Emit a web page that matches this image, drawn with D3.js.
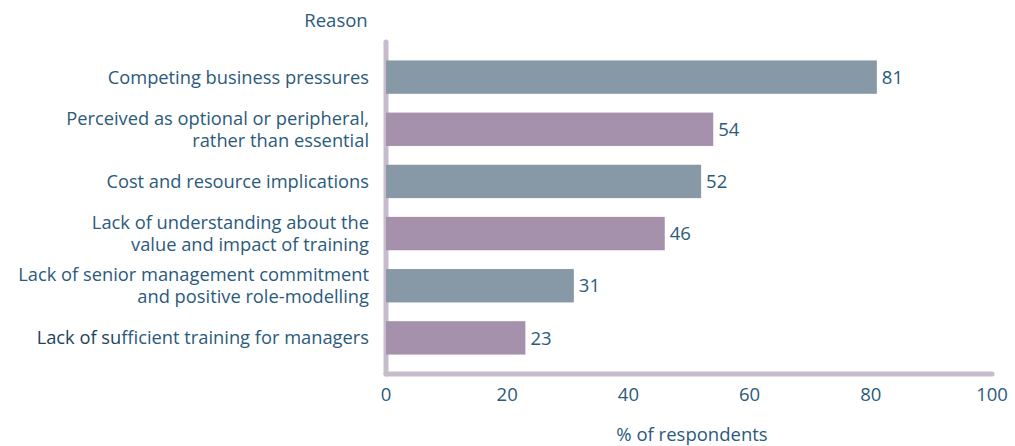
<!DOCTYPE html>
<html><head><meta charset="utf-8">
<script src="https://cdn.jsdelivr.net/npm/d3@7"></script>
<style>body{margin:0;background:#fff}svg{display:block}text{font-family:"Open Sans",sans-serif}</style>
</head><body><svg id="c" width="1015" height="446"></svg>
<script>
const categories = [
  ["Competing business pressures"],
  ["Perceived as optional or peripheral,", "rather than essential"],
  ["Cost and resource implications"],
  ["Lack of understanding about the", "value and impact of training"],
  ["Lack of senior management commitment", "and positive role-modelling"],
  ["Lack of sufficient training for managers"]
];
const values = [81, 54, 52, 46, 31, 23];
const xTicks = [0, 20, 40, 60, 80, 100];
const barColors = ["#8799a7", "#a591ab"];

const svg = d3.select("#c");
const textColor = "#2b5a7b";
const axisColor = "#c6bccc";
const x = d3.scaleLinear().domain([0, 100]).range([386, 992]);
const y = d3.scaleBand().domain(d3.range(values.length)).range([50, 365]).paddingInner(0.36).paddingOuter(0.2);

svg.append("line").attr("x1", 386).attr("x2", 386).attr("y1", 42).attr("y2", 374)
  .attr("stroke", axisColor).attr("stroke-width", 5).attr("stroke-linecap", "round");
svg.append("line").attr("x1", 386).attr("x2", 992).attr("y1", 374).attr("y2", 374)
  .attr("stroke", axisColor).attr("stroke-width", 5).attr("stroke-linecap", "round");

svg.selectAll("rect.bar").data(values).join("rect").attr("class", "bar")
  .attr("x", x(0)).attr("y", (d, i) => y(i))
  .attr("width", d => x(d) - x(0)).attr("height", y.bandwidth())
  .attr("fill", (d, i) => barColors[i % 2]);

svg.selectAll("text.val").data(values).join("text").attr("class", "val")
  .attr("x", d => x(d) + 5).attr("y", (d, i) => y(i) + y.bandwidth() / 2)
  .attr("dy", "0.36em").attr("font-size", 18.5).attr("fill", textColor).text(d => d);

const lab = svg.selectAll("text.cat").data(categories).join("text").attr("class", "cat")
  .attr("text-anchor", "end").attr("font-size", 18.3).attr("fill", textColor);
lab.each(function (lines, i) {
  const t = d3.select(this);
  const cy = y(i) + y.bandwidth() / 2;
  const lh = 22;
  lines.forEach((s, k) => {
    const yy = cy + (k - (lines.length - 1) / 2) * lh;
    if (i === values.length - 1) {
      t.append("tspan").attr("x", 369).attr("y", yy).attr("dy", "0.36em").attr("fill", "#1d4260").text("Lack of su");
      t.append("tspan").text(s.slice(10));
    } else {
      t.append("tspan").attr("x", 369).attr("y", yy).attr("dy", "0.36em").text(s);
    }
  });
});

svg.selectAll("text.tick").data(xTicks).join("text").attr("class", "tick")
  .attr("x", d => x(d)).attr("y", 401).attr("text-anchor", "middle")
  .attr("font-size", 18.5).attr("fill", textColor).text(d => d);

svg.append("text").attr("x", 692).attr("y", 441).attr("text-anchor", "middle")
  .attr("font-size", 18.5).attr("fill", textColor).text("% of respondents");
svg.append("text").attr("x", 336).attr("y", 27).attr("text-anchor", "middle")
  .attr("font-size", 18.5).attr("fill", textColor).text("Reason");
</script></body></html>
